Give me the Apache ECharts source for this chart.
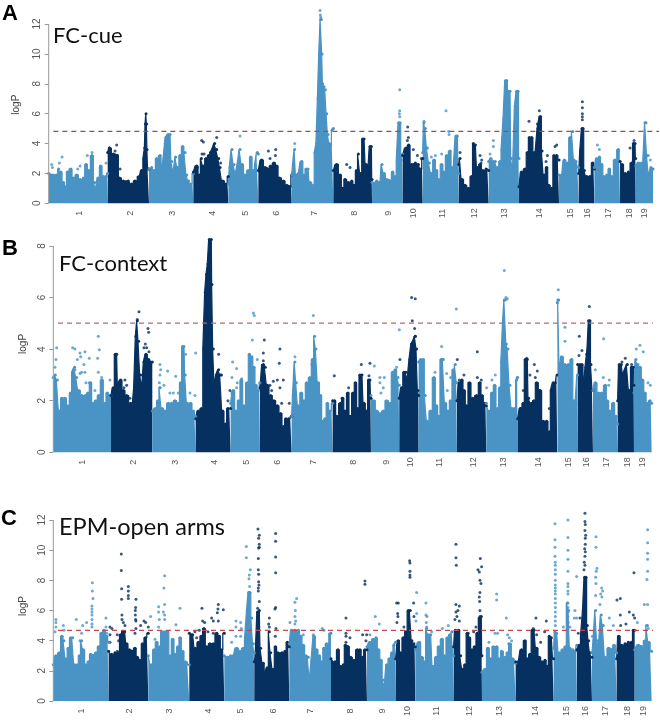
<!DOCTYPE html>
<html>
<head>
<meta charset="utf-8">
<title>Manhattan plots</title>
<script src="https://cdn.jsdelivr.net/npm/echarts@6/dist/echarts.min.js"></script>
<style>
  html, body { margin: 0; padding: 0; background: #fff; }
  #main { width: 660px; height: 721px; }
</style>
</head>
<body>
<div id="main"></div>
<script>
const chrNames = ['1','2','3','4','5','6','7','8','9','10','11','12','13','14','15','16','17','18','19']

// outline of each chromosome: [genome position, logP]
const skyA = [
  [[146,2.0],[152,1.9],[160,1.9],[170,1.9],[176,2.3],[182,2.1],[190,1.4],[196,1.1],[202,2.1],[212,2.3],[220,1.7],[230,1.9],[240,1.6],[250,1.7],[258,2.6],[266,2.2],[276,3.2],[284,1.4],[288,0.9],[294,1.7],[302,2.5],[310,1.8],[318,1.8],[323,2.0]],
  [[323,3.4],[328,3.7],[340,3.3],[352,3.2],[358,1.7],[370,1.5],[385,1.5],[395,1.3],[405,1.5],[418,1.8],[425,2.2],[432,3.0],[434,3.7],[436,5.3],[438,6.0],[440,5.3],[441,3.6],[444,2.3],[447,2.3]],
  [[447,2.3],[455,2.4],[462,2.2],[470,3.0],[480,3.2],[486,2.0],[492,3.0],[498,4.4],[504,4.6],[510,4.6],[515,2.8],[522,2.0],[527,3.1],[533,2.4],[540,3.2],[548,3.8],[555,3.4],[560,1.9],[566,1.5],[572,1.3],[580,2.0]],
  [[580,2.1],[590,2.5],[598,1.9],[604,3.0],[610,2.5],[618,3.0],[626,3.2],[632,3.4],[638,3.6],[644,4.0],[650,3.6],[656,3.0],[660,2.4],[668,1.5],[678,1.3],[685,1.8]],
  [[685,1.3],[690,2.4],[696,3.6],[702,2.6],[708,1.9],[714,2.6],[720,3.6],[726,2.6],[735,1.9],[745,2.2],[752,3.1],[760,2.2],[766,2.5],[772,3.4],[775,3.3]],
  [[775,2.2],[785,2.9],[795,2.4],[803,2.3],[812,2.5],[822,2.7],[830,2.5],[838,1.7],[850,1.5],[860,1.2],[870,1.1],[875,1.9]],
  [[875,1.9],[880,2.6],[884,3.6],[888,1.9],[895,2.0],[905,2.8],[912,1.9],[918,2.3],[924,2.3],[930,1.4],[940,1.2],[945,3.4],[950,4.0],[954,7.0],[958,10.0],[962,12.3],[964,12.3],[966,10.0],[968,8.0],[972,7.8],[976,7.6],[980,6.0],[984,4.6],[988,4.0],[992,3.9],[996,4.9],[1000,5.0]],
  [[1000,2.2],[1010,2.6],[1020,1.9],[1028,1.0],[1035,1.6],[1045,1.4],[1055,1.5],[1062,1.2],[1070,2.2],[1075,3.3],[1082,2.0],[1088,4.3],[1092,4.3],[1098,2.6],[1105,1.5],[1110,3.8],[1114,3.8],[1116,1.6]],
  [[1116,1.4],[1130,1.5],[1140,1.4],[1146,2.6],[1152,2.0],[1160,1.6],[1170,1.5],[1178,2.1],[1185,1.8],[1192,2.8],[1196,5.4],[1200,5.4],[1204,2.9],[1208,3.3]],
  [[1208,3.2],[1218,3.7],[1226,3.9],[1234,2.6],[1240,2.6],[1246,2.7],[1255,2.6],[1262,2.3],[1268,3.0]],
  [[1268,3.4],[1272,5.4],[1276,5.0],[1282,3.7],[1288,2.7],[1294,2.0],[1302,2.9],[1310,2.2],[1316,1.6],[1325,2.6],[1332,2.1],[1340,3.2],[1350,3.5],[1356,2.4],[1362,2.2],[1368,4.5],[1372,4.5],[1376,2.0]],
  [[1376,2.6],[1380,3.0],[1386,1.6],[1395,1.2],[1405,1.0],[1415,1.8],[1420,4.0],[1426,3.9],[1432,2.4],[1440,2.6],[1448,2.2],[1458,2.3],[1466,2.2]],
  [[1466,2.8],[1472,3.0],[1480,2.8],[1486,2.8],[1492,2.4],[1500,2.8],[1506,3.6],[1512,5.7],[1516,8.2],[1520,8.2],[1524,7.5],[1530,7.5],[1534,3.0],[1540,2.0],[1546,6.5],[1550,7.5],[1554,7.5],[1557,3.0]],
  [[1557,1.1],[1565,2.1],[1575,2.3],[1582,3.4],[1588,4.4],[1595,4.4],[1602,3.4],[1608,3.4],[1614,5.0],[1620,5.8],[1622,5.8],[1626,3.5],[1632,1.9],[1640,2.4],[1646,1.2],[1655,1.0],[1662,3.2],[1670,3.2],[1677,2.9]],
  [[1677,1.9],[1685,1.9],[1693,2.9],[1702,2.7],[1710,4.4],[1718,4.8],[1722,2.9],[1728,2.8],[1736,2.4]],
  [[1736,2.0],[1742,3.5],[1746,5.0],[1749,5.0],[1753,2.2],[1760,1.8],[1770,1.8],[1778,2.7],[1783,2.3]],
  [[1783,2.4],[1790,3.0],[1798,3.1],[1805,2.6],[1812,1.8],[1820,1.9],[1828,2.3],[1835,1.8],[1845,2.9],[1855,3.6],[1860,2.8]],
  [[1860,2.8],[1866,2.6],[1875,2.0],[1885,2.1],[1895,2.7],[1900,4.0],[1905,4.0],[1907,3.0]],
  [[1907,2.5],[1915,2.7],[1925,2.7],[1932,3.0],[1935,5.4],[1938,5.4],[1941,3.2],[1948,1.8],[1953,2.4],[1959,2.3]]
]
const skyB = [
  [[160,2.9],[166,3.0],[172,2.8],[178,1.6],[186,2.1],[195,2.1],[204,1.8],[212,2.3],[218,3.1],[224,3.3],[230,2.9],[236,2.4],[246,2.2],[256,2.2],[264,2.3],[272,2.7],[278,1.9],[288,2.0],[296,2.2],[306,2.8],[314,1.9],[322,2.3],[328,2.2],[333,2.2]],
  [[333,2.2],[340,2.5],[346,3.8],[350,3.8],[354,2.6],[362,2.8],[370,2.4],[380,2.2],[392,1.9],[398,1.6],[404,2.5],[408,4.5],[412,5.1],[416,4.3],[422,3.0],[428,2.5],[432,3.5],[438,3.8],[446,3.6],[452,3.5],[457,3.5]],
  [[457,1.6],[466,1.7],[474,2.0],[480,2.5],[486,1.7],[495,1.6],[505,1.9],[515,1.9],[525,2.0],[535,1.9],[542,2.7],[548,4.1],[552,4.1],[556,3.0],[562,1.9],[572,1.9],[580,1.6],[587,1.4]],
  [[587,1.3],[595,1.6],[605,1.7],[612,4.0],[616,6.2],[620,6.9],[624,7.3],[628,8.25],[634,8.25],[636,6.5],[640,4.0],[644,2.6],[650,3.0],[656,3.2],[662,3.0],[668,1.6],[676,1.1],[684,1.7],[692,1.7]],
  [[692,1.9],[700,2.4],[708,1.6],[716,2.0],[724,2.8],[732,1.8],[742,2.7],[748,3.8],[755,3.7],[762,3.3],[768,2.6],[775,2.4],[780,2.7]],
  [[780,2.5],[790,3.4],[796,3.3],[802,2.6],[812,2.2],[822,2.0],[832,1.8],[842,1.5],[850,1.0],[858,1.3],[866,1.3],[875,1.4]],
  [[875,1.4],[880,2.2],[885,3.5],[889,2.7],[895,1.8],[904,2.3],[912,2.0],[920,2.7],[930,2.9],[938,3.6],[944,4.5],[948,4.0],[955,2.7],[962,2.2],[968,1.2],[975,1.3],[982,1.9],[990,1.6],[998,1.9]],
  [[998,2.0],[1004,2.0],[1010,1.4],[1022,1.9],[1028,2.1],[1035,1.6],[1044,2.3],[1050,1.4],[1060,2.3],[1066,2.7],[1074,1.7],[1080,3.0],[1086,3.0],[1092,1.9],[1100,1.6],[1106,2.8],[1110,2.8],[1113,2.1]],
  [[1113,2.2],[1122,2.0],[1130,1.6],[1140,1.5],[1150,1.6],[1160,2.0],[1170,1.9],[1178,3.1],[1186,3.2],[1194,2.9],[1198,2.6]],
  [[1198,2.1],[1205,2.5],[1212,3.1],[1218,3.1],[1224,2.8],[1230,3.6],[1235,4.2],[1240,4.3],[1246,4.5],[1250,4.0],[1254,2.4],[1256,2.2]],
  [[1256,3.5],[1262,3.6],[1270,3.6],[1276,2.2],[1282,1.2],[1292,1.6],[1302,2.9],[1310,1.8],[1316,1.4],[1324,3.6],[1330,3.6],[1336,1.9],[1344,1.6],[1352,2.0],[1360,3.2],[1366,3.4],[1371,2.7]],
  [[1371,2.0],[1378,2.7],[1386,2.8],[1392,2.4],[1400,1.8],[1408,2.7],[1418,2.1],[1430,2.2],[1440,2.7],[1446,2.2],[1454,1.9],[1459,1.8]],
  [[1459,1.9],[1468,1.6],[1476,2.3],[1484,2.6],[1492,1.7],[1500,2.5],[1505,3.5],[1510,5.0],[1513,5.9],[1516,5.9],[1519,4.2],[1524,4.0],[1530,2.6],[1536,1.7],[1544,1.7],[1550,2.8],[1553,2.9]],
  [[1553,1.3],[1562,1.7],[1570,1.9],[1576,3.6],[1582,3.6],[1586,2.1],[1594,1.9],[1602,2.0],[1610,2.7],[1620,2.4],[1630,1.2],[1640,1.2],[1648,0.8],[1654,2.4],[1660,2.7],[1666,2.7],[1672,3.0]],
  [[1672,5.8],[1674,5.9],[1676,5.9],[1679,3.0],[1685,3.7],[1695,3.4],[1705,3.4],[1715,3.6],[1722,2.0],[1728,1.9],[1733,3.0]],
  [[1733,3.4],[1740,3.4],[1746,3.4],[1752,2.3],[1758,3.3],[1764,4.0],[1766,5.1],[1770,5.1],[1773,3.4],[1779,2.4]],
  [[1779,2.4],[1786,2.7],[1796,2.3],[1805,2.3],[1816,2.6],[1822,2.0],[1830,1.6],[1840,1.9],[1848,1.4],[1853,1.1]],
  [[1853,2.0],[1858,3.4],[1864,3.4],[1870,3.0],[1876,3.2],[1882,3.4],[1888,2.4],[1895,3.3],[1900,3.3],[1902,2.6]],
  [[1902,2.3],[1908,3.6],[1914,3.4],[1920,3.3],[1928,2.8],[1935,2.3],[1942,1.9],[1950,2.0],[1955,1.9]]
]
const skyC = [
  [[160,2.4],[168,3.0],[178,3.2],[186,4.3],[192,4.0],[198,2.8],[205,3.5],[212,4.2],[218,4.2],[224,2.4],[232,2.4],[238,3.0],[245,4.0],[250,3.4],[258,2.4],[265,2.6],[272,3.1],[280,3.0],[288,3.2],[296,3.6],[304,4.5],[312,4.7],[320,4.3],[326,3.9]],
  [[326,3.3],[335,3.1],[345,3.2],[355,3.2],[362,4.4],[368,4.6],[374,4.6],[380,3.8],[388,3.4],[396,3.3],[405,3.5],[412,2.9],[420,2.7],[428,3.8],[436,4.2],[445,4.5]],
  [[445,3.0],[454,2.4],[462,3.4],[470,3.9],[478,3.6],[486,4.6],[495,4.6],[503,4.6],[510,3.0],[518,4.1],[526,3.1],[534,3.6],[540,4.2],[548,3.3],[556,2.6],[568,2.4]],
  [[568,4.5],[578,4.4],[586,3.5],[596,3.9],[604,4.3],[612,4.8],[620,3.6],[630,3.8],[640,3.8],[650,4.5],[658,4.3],[664,3.4],[673,4.5]],
  [[673,3.0],[682,2.9],[692,3.0],[700,3.0],[710,3.5],[720,3.3],[730,3.5],[737,4.1],[742,6.0],[746,7.2],[750,7.2],[755,5.5],[760,3.8],[763,3.2]],
  [[763,2.6],[768,3.0],[773,5.9],[778,6.0],[782,3.5],[790,2.5],[795,1.7],[802,2.2],[808,4.6],[812,3.2],[820,2.1],[826,3.6],[834,3.2],[846,3.2],[855,3.3],[862,3.9],[868,3.6]],
  [[868,3.8],[875,4.7],[885,4.7],[895,4.7],[902,4.3],[910,3.7],[918,3.0],[925,2.9],[930,1.3],[936,2.7],[942,4.3],[950,3.4],[958,3.0],[965,2.6],[972,3.5],[980,3.8],[993,4.5]],
  [[993,2.8],[1005,2.6],[1014,3.4],[1022,2.3],[1030,2.4],[1036,3.7],[1044,3.6],[1052,2.9],[1062,2.7],[1072,3.4],[1080,3.4],[1087,2.9],[1095,3.4],[1101,3.4]],
  [[1101,3.6],[1110,3.9],[1120,4.1],[1128,4.2],[1136,3.4],[1143,2.7],[1150,1.4],[1155,0.9],[1160,2.4],[1168,2.8],[1176,3.2],[1182,3.7],[1187,3.9]],
  [[1187,2.8],[1195,4.0],[1202,3.2],[1210,4.2],[1218,4.6],[1225,6.0],[1231,6.0],[1236,4.0],[1242,3.8],[1246,3.6]],
  [[1246,3.4],[1258,3.9],[1266,2.9],[1274,2.6],[1280,4.8],[1285,4.4],[1292,4.4],[1300,2.3],[1308,2.9],[1316,3.6],[1326,4.1],[1334,3.0],[1342,4.2],[1350,4.4],[1356,4.6],[1361,3.0]],
  [[1361,3.6],[1366,4.7],[1376,4.7],[1382,3.0],[1388,2.1],[1395,2.4],[1402,4.5],[1408,4.2],[1416,3.4],[1424,3.6],[1432,4.5],[1438,5.5],[1444,5.6],[1446,3.0]],
  [[1446,1.9],[1455,2.1],[1464,3.5],[1472,2.8],[1480,3.6],[1490,3.6],[1498,2.8],[1505,3.3],[1515,2.9],[1522,3.2],[1530,3.8],[1538,2.8],[1547,2.5]],
  [[1547,2.6],[1555,2.6],[1565,3.4],[1575,4.0],[1582,2.8],[1590,3.1],[1597,4.7],[1602,4.7],[1610,3.5],[1618,2.9],[1626,2.6],[1635,2.7],[1642,2.3],[1648,4.3],[1654,4.2],[1661,2.8]],
  [[1661,3.5],[1665,4.6],[1670,4.5],[1678,3.2],[1688,3.4],[1696,3.6],[1702,6.5],[1706,6.0],[1710,3.5],[1718,3.4],[1726,3.3],[1731,3.7]],
  [[1731,3.4],[1738,3.7],[1745,4.3],[1750,6.0],[1754,8.2],[1758,8.2],[1762,5.0],[1766,4.0],[1770,3.2],[1776,2.9]],
  [[1776,3.2],[1782,4.0],[1787,6.0],[1792,4.0],[1798,3.6],[1804,5.7],[1810,5.0],[1816,2.9],[1826,3.5],[1835,3.4],[1842,3.7],[1850,3.2]],
  [[1850,2.8],[1856,4.3],[1865,3.7],[1875,3.8],[1885,3.9],[1895,3.9],[1900,4.7],[1904,4.7]],
  [[1904,3.4],[1915,3.7],[1925,3.6],[1935,4.0],[1940,5.0],[1946,3.9],[1955,3.3]]
]

// single markers that stand clear of the outline
const dotsA = [
  [155,2.6],[157,2.4],[178,2.7],[186,3.1],[233,2.3],[240,2.5],[262,3.2],[276,3.4],[318,2.7],
  [328,3.7],[345,3.5],[350,3.9],[360,2.3],[592,2.4],[605,4.2],[610,4.1],[606,3.3],[612,3.3],[650,4.4],[662,2.7],
  [720,4.5],[805,3.5],[810,3.0],[827,3.6],[826,3.2],[884,4.0],[960,12.9],[961,12.6],[962,12.45],
  [1010,2.5],[1040,2.6],[1050,2.4],[1199,7.6],[1199,6.2],[1198,6.0],[1199,5.8],[1223,5.1],[1225,4.4],[1222,4.2],
  [1240,3.6],[1252,3.2],[1264,3.0],[1272,5.5],[1294,3.1],[1306,3.2],[1325,3.3],[1338,6.2],[1346,4.8],[1347,4.6],
  [1380,3.4],[1440,3.2],[1445,2.9],[1443,2.7],[1470,3.3],[1480,4.2],[1480,3.8],[1520,8.2],[1587,5.5],[1618,6.2],[1612,5.3],
  [1638,2.8],[1642,3.2],[1665,3.8],[1670,3.9],[1747,6.8],[1747,6.4],[1747,6.0],[1747,5.8],[1747,5.6],
  [1792,3.9],[1798,3.6],[1890,3.7],[1902,4.2],[1945,3.2],[1951,2.9]
]
const dotsB = [
  [165,3.3],[168,3.6],[170,4.05],[218,4.05],[225,4.0],[225,3.2],[232,3.6],[240,3.85],[240,3.05],[242,3.7],[245,3.1],[252,3.4],[255,3.9],[255,3.1],[258,2.7],[268,3.65],[268,2.7],[285,2.4],[293,3.65],[295,4.5],[295,3.1],[298,3.98],[305,2.9],[330,2.8],
  [350,2.6],[372,2.5],[375,2.8],[380,2.6],[390,2.1],[412,5.15],[417,5.45],[432,4.05],[436,4.2],[440,4.05],[444,4.8],[446,4.65],[447,3.9],
  [478,2.7],[480,3.4],[480,3.0],[480,2.5],[482,3.2],[492,2.6],[503,3.15],[510,2.3],[520,2.3],[527,2.95],[535,2.3],[557,3.8],[570,2.3],[585,2.2],[587,3.85],
  [625,3.0],[630,3.5],[656,3.8],[665,3.0],[684,2.0],[690,2.4],
  [696,2.9],[696,2.3],[698,3.5],[710,3.25],[710,2.5],[712,2.7],[725,2.85],[757,4.35],[760,5.4],[763,5.3],[772,3.6],
  [790,3.85],[790,3.55],[793,4.35],[800,2.6],[810,2.6],[815,2.4],[820,2.75],[832,2.8],[838,3.45],[840,4.0],[840,2.5],[845,1.9],[850,2.8],[868,1.9],
  [885,3.7],[936,3.4],[940,5.3],
  [1003,2.97],[1026,2.1],[1046,2.5],[1084,3.4],[1107,2.97],[1110,3.45],[1123,3.35],[1140,2.9],[1140,2.7],[1143,2.3],[1150,2.5],[1153,2.9],
  [1190,3.3],[1198,4.75],[1200,3.6],[1235,6.0],[1237,5.1],[1244,4.8],[1246,5.95],[1246,4.5],
  [1305,3.1],[1325,4.1],[1328,3.6],[1340,3.05],[1342,2.4],[1352,2.9],[1369,5.55],[1372,3.6],
  [1378,2.8],[1392,3.0],[1432,3.9],[1432,2.9],[1444,2.8],[1460,2.5],[1476,2.8],[1486,3.0],[1513,7.05],[1518,6.0],[1522,5.95],[1552,2.9],
  [1562,1.7],[1570,2.4],[1580,3.65],[1590,3.0],[1603,3.4],[1606,2.9],[1612,3.15],[1618,2.4],[1648,1.7],
  [1675,6.3],[1695,4.85],[1695,4.3],[1737,3.75],[1738,4.5],[1746,3.95],[1760,3.8],[1768,5.65],
  [1786,3.2],[1810,2.9],[1811,4.4],[1826,2.6],[1828,2.8],[1866,3.5],[1876,3.65],[1895,3.4],
  [1909,4.0],[1920,4.15],[1930,3.9],[1944,2.7],[1951,2.6]
]
const dotsC = [
  [165,4.6],[168,5.4],[168,5.2],[168,4.9],[190,5.0],[192,4.7],[229,5.4],[240,4.0],[245,4.5],[248,5.0],[260,5.2],[276,6.3],[276,6.1],[276,5.9],[276,5.7],[276,5.4],[276,5.1],[276,4.9],[277,7.85],[277,7.3],[279,6.8],[318,5.5],[318,4.9],[320,4.5],
  [330,4.9],[330,4.4],[330,3.9],[336,4.8],[345,2.8],[345,2.4],[352,4.4],[352,3.3],[356,4.0],[364,9.75],[364,8.65],[365,7.45],[365,6.75],[366,5.7],[366,5.4],[370,5.2],[375,5.0],[385,7.6],[385,7.3],[385,7.0],[385,6.8],[405,4.5],[406,6.0],[406,5.7],[407,6.2],[407,5.4],[408,6.75],[408,5.3],[408,4.8],[422,5.0],[432,5.3],[437,5.2],[445,4.9],
  [452,5.6],[465,4.1],[476,6.25],[476,5.9],[476,4.9],[478,5.4],[490,5.9],[492,7.5],[494,8.3],[494,6.4],[494,5.7],[494,5.4],[528,5.05],[540,6.15],
  [585,4.6],[590,4.2],[598,4.7],[600,3.8],[606,6.15],[608,5.3],[614,5.2],[624,4.6],[635,5.5],[640,5.3],[640,4.5],[652,5.85],[654,6.1],[655,6.4],[655,5.3],[670,6.05],
  [695,3.9],[708,5.3],[708,4.9],[708,4.3],[722,5.2],[722,4.3],[724,4.8],[739,10.25],[739,9.5],[747,8.1],[748,8.35],[749,7.6],[751,8.7],
  [773,6.15],[774,11.4],[775,9.45],[775,8.7],[775,7.5],[775,7.3],[776,10.8],[776,10.15],[776,8.4],[776,7.9],[777,7.7],[778,11.0],[778,10.4],[778,10.2],[778,6.6],[806,5.1],[808,5.5],[808,4.9],[825,6.1],[826,4.3],[827,11.1],[827,10.6],[827,9.55],[827,8.5],[827,6.2],[828,4.8],
  [870,5.2],[885,6.55],[885,5.6],[885,5.1],[886,6.0],[887,5.3],[890,6.8],[910,4.4],[940,4.4],[967,4.8],[972,4.7],
  [1038,5.5],[1038,4.5],[1038,4.3],[1038,3.9],[1050,4.2],[1088,4.4],[1095,7.95],[1095,7.75],[1098,4.0],[1100,4.4],
  [1110,4.4],[1126,5.6],[1138,5.1],
  [1190,6.5],[1191,5.2],[1193,5.8],[1194,5.6],[1195,6.5],[1212,4.9],[1229,9.3],[1230,9.15],[1230,8.6],[1230,8.35],[1230,8.2],[1241,6.5],[1242,5.6],[1248,5.3],[1250,7.2],[1250,5.8],
  [1278,6.5],[1278,5.7],[1279,5.2],[1280,4.9],[1281,5.6],[1295,4.6],[1327,4.8],[1345,5.0],
  [1365,5.4],[1368,10.4],[1368,9.5],[1368,6.4],[1368,5.9],[1369,9.0],[1371,5.6],[1374,6.0],[1378,6.3],[1378,5.3],[1405,4.5],[1408,4.1],[1421,4.6],[1428,4.9],[1434,8.7],[1438,8.55],[1438,6.9],[1439,6.6],[1440,8.0],[1440,7.2],[1440,6.0],[1440,5.6],[1441,9.45],[1443,7.8],[1445,8.9],
  [1467,3.9],[1485,4.5],[1490,7.1],[1490,6.7],[1493,4.5],[1519,5.5],[1523,4.4],[1526,3.8],[1528,4.2],[1535,4.0],
  [1600,4.8],[1608,5.5],[1610,4.4],[1622,3.9],[1634,4.6],[1639,5.3],
  [1665,11.75],[1665,10.7],[1665,10.2],[1665,9.6],[1666,9.2],[1666,9.0],[1666,8.7],[1666,8.4],[1666,8.0],[1666,7.7],[1666,7.5],[1666,7.3],[1666,7.1],[1666,6.8],[1666,6.5],[1666,6.2],[1666,5.9],[1666,5.6],[1666,5.3],[1666,5.0],[1690,4.9],
  [1704,12.0],[1704,10.85],[1704,10.0],[1704,9.4],[1704,8.6],[1704,7.8],[1704,7.6],[1704,7.3],[1704,7.1],[1704,6.5],[1704,6.2],[1704,5.9],[1704,5.6],[1705,5.2],[1710,4.9],[1723,5.5],[1725,6.0],[1730,8.25],[1730,5.5],
  [1735,4.5],[1740,5.5],[1752,8.7],[1753,9.2],[1754,10.1],[1755,9.0],[1755,9.6],[1755,11.3],[1755,12.45],[1755,11.9],[1756,11.7],[1756,10.8],[1756,10.4],[1756,9.9],[1757,11.0],[1777,4.3],
  [1787,7.0],[1787,8.2],[1788,10.9],[1788,10.2],[1788,7.8],[1789,8.6],[1791,8.8],[1800,6.4],[1802,7.1],[1805,7.5],[1806,6.9],[1808,7.3],[1828,5.5],[1840,5.0],
  [1851,6.7],[1861,6.8],[1861,5.7],[1862,5.0],[1878,5.1],[1888,5.9],[1900,5.7],[1902,8.5],[1904,5.5],
  [1912,5.2],[1933,6.4],[1941,8.05],[1943,11.35],[1943,10.5],[1943,9.8],[1943,9.4],[1943,8.6],[1943,6.4],[1943,5.0],[1945,4.8]
]

const chrMidsA = [237,390,518,638,735,830,942,1063,1166,1240,1327,1424,1512,1618,1711,1763,1825,1887,1933]
const chrMidsB = [247,400,527,645,741,832,941,1061,1161,1232,1318,1420,1511,1616,1707,1760,1821,1883,1929]
const chrMidsC = [244,390,510,625,723,820,933,1052,1149,1222,1309,1408,1500,1606,1701,1757,1817,1882,1930]

const thresholdA = 4.82
const thresholdB = 5.01
const thresholdC = 4.69

const yTicksA = [0,2,4,6,8,10,12]
const yTicksB = [0,2,4,6,8]
const yTicksC = [0,2,4,6,8,10,12]

const lightBlue = '#4a94c5'
const darkBlue = '#06305f'

const panels = [
  { sky: skyA, dots: dotsA, mids: chrMidsA, threshold: thresholdA, ticks: yTicksA, dash: '#a8484c', xMin: 146, xMax: 1977, yMax: 13.2, left: 48.7, top: 6.1, height: 197.2, gap: 27 },
  { sky: skyB, dots: dotsB, mids: chrMidsB, threshold: thresholdB, ticks: yTicksB, dash: '#b56a6e', xMin: 160, xMax: 1959, yMax: 8.4, left: 53.3, top: 235.6, height: 216.7, gap: 25 },
  { sky: skyC, dots: dotsC, mids: chrMidsC, threshold: thresholdC, ticks: yTicksC, dash: '#c4494f', xMin: 160, xMax: 1959, yMax: 12.6, left: 53.3, top: 511, height: 190, gap: 25 }
]

const colorAt = (sky, x) => {
  let idx = sky.findIndex((c) => x <= c[c.length - 1][0])
  if (idx < 0) idx = sky.length - 1
  return idx % 2 === 0 ? lightBlue : darkBlue
}

const grid = []
const xAxis = []
const yAxis = []
const series = []

panels.forEach((p, i) => {
  grid.push({ left: p.left, width: (p.xMax - p.xMin) / 3, top: p.top, height: p.height })
  xAxis.push({
    gridIndex: i,
    type: 'value',
    min: p.xMin,
    max: p.xMax,
    splitLine: { show: false },
    axisLine: { show: false },
    axisTick: { show: false },
    axisLabel: {
      customValues: p.mids,
      formatter: (v) => chrNames[p.mids.indexOf(v)],
      rotate: 90,
      align: 'center',
      verticalAlign: 'middle',
      margin: 10,
      fontSize: 9,
      color: '#555',
      fontFamily: 'Liberation Sans'
    }
  })
  yAxis.push({
    gridIndex: i,
    type: 'value',
    min: 0,
    max: p.yMax,
    name: 'logP',
    nameLocation: 'middle',
    nameGap: p.gap,
    nameRotate: 90,
    nameTextStyle: { fontSize: 10, color: '#444', fontFamily: 'Liberation Sans' },
    splitLine: { show: false },
    axisLine: { show: false },
    axisTick: { customValues: p.ticks, length: 4, lineStyle: { color: '#999' } },
    axisLabel: {
      customValues: p.ticks,
      rotate: 90,
      align: 'center',
      verticalAlign: 'middle',
      margin: 11,
      fontSize: 10,
      color: '#555',
      fontFamily: 'Liberation Sans'
    }
  })

  // chromosome skylines, alternating colour
  p.sky.forEach((outline, c) => {
    const color = c % 2 === 0 ? lightBlue : darkBlue
    series.push({
      name: 'chr' + chrNames[c],
      type: 'line',
      xAxisIndex: i,
      yAxisIndex: i,
      data: outline,
      step: 'middle',
      showAllSymbol: true,
      symbol: 'circle',
      symbolSize: 3,
      clip: false,
      silent: true,
      lineStyle: { color, width: 1.2 },
      itemStyle: { color },
      areaStyle: { color, opacity: 1 }
    })
  })

  series.push({
    type: 'scatter',
    xAxisIndex: i,
    yAxisIndex: i,
    data: p.dots,
    symbolSize: 3,
    silent: true,
    itemStyle: { color: (params) => colorAt(p.sky, params.value[0]) }
  })

  // threshold and R-style axis rule
  series.push({
    type: 'line',
    xAxisIndex: i,
    yAxisIndex: i,
    data: [[p.xMin + 14, p.threshold], [p.xMax, p.threshold]],
    symbol: 'none',
    silent: true,
    z: 5,
    lineStyle: { color: p.dash, width: 1.2, type: [5, 4] }
  })
  series.push({
    type: 'line',
    xAxisIndex: i,
    yAxisIndex: i,
    data: [[p.xMin, 0], [p.xMin, p.ticks[p.ticks.length - 1]]],
    symbol: 'none',
    silent: true,
    clip: false,
    z: 6,
    lineStyle: { color: '#999', width: 1 }
  })
})

const letter = { fontFamily: 'Liberation Sans', fontWeight: 'bold', fontSize: 22, color: '#000' }
const heading = { fontFamily: 'Lato', fontWeight: 'normal', color: '#111' }

const myChart = echarts.init(document.getElementById('main'), null, { renderer: 'canvas' })
myChart.setOption({
  animation: false,
  backgroundColor: '#fff',
  title: [
    { text: 'A', left: 2, top: 3, padding: 0, textStyle: letter },
    { text: 'B', left: 2, top: 238, padding: 0, textStyle: letter },
    { text: 'C', left: 1, top: 508, padding: 0, textStyle: letter },
    { text: 'FC-cue', left: 53, top: 25, padding: 0, textStyle: { ...heading, fontSize: 22 } },
    { text: 'FC-context', left: 59, top: 253, padding: 0, textStyle: { ...heading, fontSize: 22 } },
    { text: 'EPM-open arms', left: 59, top: 515, padding: 0, textStyle: { ...heading, fontSize: 23.5 } }
  ],
  grid,
  xAxis,
  yAxis,
  series
})
</script>
</body>
</html>
